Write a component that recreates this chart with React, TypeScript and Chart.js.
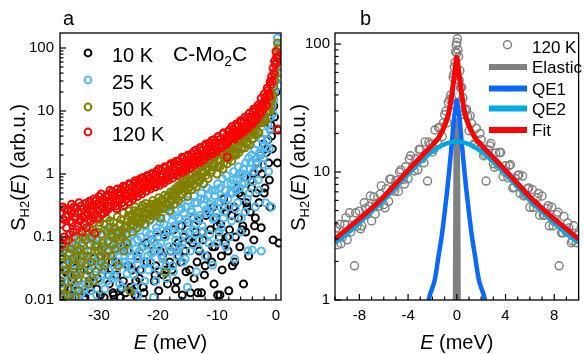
import React, { useEffect, useRef } from "react";
import { Chart, registerables } from "chart.js";
Chart.register(...registerables);

const FONT = '"Liberation Sans", Arial, Helvetica, sans-serif';

// ---------- Panel a : S_H2(E) at four temperatures ----------
const EA = [
  -36.5, -36.25, -36, -35.75, -35.5, -35.25, -35, -34.75, -34.5, -34.25, -34, -33.75,
  -33.5, -33.25, -33, -32.75, -32.5, -32.25, -32, -31.75, -31.5, -31.25, -31, -30.75,
  -30.5, -30.25, -30, -29.75, -29.5, -29.25, -29, -28.75, -28.5, -28.25, -28, -27.75,
  -27.5, -27.25, -27, -26.75, -26.5, -26.25, -26, -25.75, -25.5, -25.25, -25, -24.75,
  -24.5, -24.25, -24, -23.75, -23.5, -23.25, -23, -22.75, -22.5, -22.25, -22, -21.75,
  -21.5, -21.25, -21, -20.75, -20.5, -20.25, -20, -19.75, -19.5, -19.25, -19, -18.75,
  -18.5, -18.25, -18, -17.75, -17.5, -17.25, -17, -16.75, -16.5, -16.25, -16, -15.75,
  -15.5, -15.25, -15, -14.75, -14.5, -14.25, -14, -13.75, -13.5, -13.25, -13, -12.75,
  -12.5, -12.25, -12, -11.75, -11.5, -11.25, -11, -10.75, -10.5, -10.25, -10, -9.75,
  -9.5, -9.25, -9, -8.75, -8.5, -8.25, -8, -7.75, -7.5, -7.25, -7, -6.75,
  -6.5, -6.25, -6, -5.75, -5.5, -5.25, -5, -4.75, -4.5, -4.25, -4, -3.75,
  -3.5, -3.25, -3, -2.75, -2.5, -2.25, -2, -1.75, -1.5, -1.25, -1, -0.75,
  -0.5, -0.25, 0, 0.25, 0.5,
];
// second, interleaved set of energy channels
const EA2 = [
  -36.375, -36.125, -35.875, -35.625, -35.375, -35.125, -34.875, -34.625,
  -34.375, -34.125, -33.875, -33.625, -33.375, -33.125, -32.875, -32.625,
  -32.375, -32.125, -31.875, -31.625, -31.375, -31.125, -30.875, -30.625,
  -30.375, -30.125, -29.875, -29.625, -29.375, -29.125, -28.875, -28.625,
  -28.375, -28.125, -27.875, -27.625, -27.375, -27.125, -26.875, -26.625,
  -26.375, -26.125, -25.875, -25.625, -25.375, -25.125, -24.875, -24.625,
  -24.375, -24.125, -23.875, -23.625, -23.375, -23.125, -22.875, -22.625,
  -22.375, -22.125, -21.875, -21.625, -21.375, -21.125, -20.875, -20.625,
  -20.375, -20.125, -19.875, -19.625, -19.375, -19.125, -18.875, -18.625,
  -18.375, -18.125, -17.875, -17.625, -17.375, -17.125, -16.875, -16.625,
  -16.375, -16.125, -15.875, -15.625, -15.375, -15.125, -14.875, -14.625,
  -14.375, -14.125, -13.875, -13.625, -13.375, -13.125, -12.875, -12.625,
  -12.375, -12.125, -11.875, -11.625, -11.375, -11.125, -10.875, -10.625,
  -10.375, -10.125, -9.875, -9.625, -9.375, -9.125, -8.875, -8.625,
  -8.375, -8.125, -7.875, -7.625, -7.375, -7.125, -6.875, -6.625,
  -6.375, -6.125, -5.875, -5.625, -5.375, -5.125, -4.875, -4.625,
  -4.375, -4.125, -3.875, -3.625, -3.375, -3.125, -2.875, -2.625,
  -2.375, -2.125, -1.875, -1.625, -1.375, -1.125, -0.875, -0.625,
  -0.375, -0.125, 0.125, 0.375,
];

const S120K = [
  0.24, 0.075, 0.19, 0.28, 0.14, 0.22, 0.11, 0.26, 0.17, 0.3, 0.2, 0.13,
  0.25, 0.18, 0.31, 0.21, 0.16, 0.34, 0.24, 0.19, 0.36, 0.26, 0.2, 0.115,
  0.38, 0.27, 0.44, 0.31, 0.23, 0.4, 0.34, 0.26, 0.47, 0.3, 0.39, 0.52,
  0.33, 0.44, 0.28, 0.5, 0.38, 0.58, 0.42, 0.32, 0.62, 0.45, 0.36, 0.68,
  0.5, 0.4, 0.72, 0.55, 0.44, 0.8, 0.6, 0.48, 0.88, 0.66, 0.53, 0.95,
  0.7, 0.58, 1.02, 0.76, 0.62, 1.1, 0.82, 0.66, 1.15, 0.9, 0.72, 1.25,
  0.95, 0.8, 1.35, 1.05, 0.86, 1.5, 1.15, 0.95, 1.6, 1.25, 1.05, 1.75,
  1.35, 1.15, 1.9, 1.5, 1.25, 2.1, 1.65, 1.4, 2.4, 1.8, 1.5, 2.6,
  2.0, 1.7, 2.8, 2.2, 1.9, 3.1, 2.45, 2.1, 3.5, 2.7, 2.3, 3.9,
  3.0, 2.6, 4.3, 3.3, 2.9, 1.85, 4.8, 3.7, 5.6, 4.3, 3.6, 6.2,
  4.8, 4.1, 7.0, 5.4, 4.6, 8.0, 6.2, 5.3, 9.2, 7.2, 6.2, 10.8,
  8.5, 7.4, 12.5, 10, 16, 12, 18.5, 14.5, 23, 19, 29, 35,
  48, 62, 88, 5.2, 75,
];
const S120K_2 = [
  0.16, 0.3, 0.1, 0.21, 0.27, 0.09, 0.18, 0.33, 0.12, 0.24, 0.29, 0.15,
  0.35, 0.19, 0.12, 0.28, 0.22, 0.14, 0.29, 0.37, 0.18, 0.31, 0.4, 0.23,
  0.33, 0.2, 0.28, 0.48, 0.37, 0.24, 0.43, 0.3, 0.28, 0.55, 0.36, 0.42,
  0.49, 0.31, 0.58, 0.4, 0.5, 0.35, 0.64, 0.47, 0.4, 0.55, 0.7, 0.43,
  0.62, 0.46, 0.78, 0.5, 0.68, 0.52, 0.85, 0.58, 0.6, 0.78, 0.92, 0.62,
  0.85, 0.66, 1.0, 0.72, 0.95, 0.7, 1.2, 0.78, 1.0, 0.78, 1.3, 0.85,
  1.1, 0.88, 1.45, 0.98, 1.25, 1.0, 1.6, 1.08, 1.4, 1.12, 1.85, 1.2,
  1.6, 1.28, 2.0, 1.4, 1.85, 1.5, 2.3, 1.6, 2.1, 1.65, 2.6, 1.85,
  2.4, 1.9, 3.0, 2.1, 2.75, 2.2, 3.4, 2.4, 3.1, 2.5, 3.9, 2.8,
  3.6, 2.8, 4.5, 3.2, 4.0, 3.2, 5.0, 3.6, 4.6, 3.9, 5.8, 4.2,
  5.8, 4.5, 6.6, 5.0, 6.8, 5.4, 7.6, 5.9, 8.0, 6.4, 9.6, 7.0,
  10.5, 8.2, 11.5, 9.0, 13, 10.8, 16.5, 12.5, 21, 17, 26, 30,
  40, 55, 72, 68,
];

const S50K = [
  0.02, 0.045, 0.012, 0.07, 0.03, 0.015, 0.055, 0.025, 0.08, 0.035, 0.011, 0.05,
  0.022, 0.065, 0.04, 0.1, 0.03, 0.12, 0.05, 0.018, 0.075, 0.04, 0.13, 0.06,
  0.028, 0.09, 0.15, 0.05, 0.11, 0.07, 0.035, 0.2, 0.085, 0.14, 0.05, 0.1,
  0.17, 0.065, 0.12, 0.035, 0.09, 0.19, 0.13, 0.06, 0.15, 0.08, 0.22, 0.014,
  0.18, 0.12, 0.26, 0.2, 0.14, 0.24, 0.17, 0.28, 0.2, 0.16, 0.3, 0.23,
  0.27, 0.19, 0.33, 0.24, 0.31, 0.22, 0.36, 0.28, 0.2, 0.4, 0.3, 0.027,
  0.34, 0.46, 0.26, 0.4, 0.5, 0.33, 0.44, 0.56, 0.38, 0.6, 0.47, 0.66,
  0.52, 0.72, 0.44, 0.62, 0.8, 0.56, 0.68, 0.9, 0.62, 0.98, 0.76, 0.88,
  1.1, 0.7, 1.5, 1.25, 0.85, 1.6, 1.05, 1.3, 1.5, 1.9, 1.0, 1.7,
  1.3, 2.2, 1.2, 1.8, 2.4, 1.45, 1.9, 2.6, 1.6, 2.9, 2.2, 2.0,
  3.3, 2.2, 3.5, 2.6, 3.9, 2.6, 3.2, 4.3, 2.9, 4.8, 3.6, 5.2,
  4.2, 6.0, 4.6, 6.6, 8.6, 6.5, 8.0, 7.0, 9.5, 12, 10, 15,
  18, 30, 55, 120, 40,
];
const S50K_2 = [
  0.05, 0.016, 0.03, 0.09, 0.012, 0.04, 0.065, 0.02, 0.045, 0.1, 0.025, 0.06,
  0.014, 0.035, 0.08, 0.05, 0.09, 0.025, 0.06, 0.14, 0.04, 0.1, 0.02, 0.07,
  0.12, 0.06, 0.17, 0.04, 0.08, 0.16, 0.05, 0.12, 0.06, 0.18, 0.11, 0.075,
  0.14, 0.095, 0.21, 0.12, 0.16, 0.1, 0.24, 0.14, 0.11, 0.19, 0.26, 0.16,
  0.22, 0.15, 0.3, 0.19, 0.26, 0.2, 0.18, 0.32, 0.24, 0.34, 0.2, 0.28,
  0.3, 0.22, 0.38, 0.26, 0.34, 0.26, 0.42, 0.3, 0.38, 0.28, 0.46, 0.34,
  0.42, 0.32, 0.52, 0.38, 0.46, 0.58, 0.4, 0.64, 0.55, 0.7, 0.48, 0.78,
  0.66, 0.84, 0.58, 0.95, 0.75, 1.0, 0.68, 1.1, 0.9, 1.2, 0.8, 1.3,
  1.05, 1.4, 0.95, 1.55, 1.25, 1.7, 1.15, 1.8, 1.4, 2.0, 1.3, 2.1,
  1.65, 2.3, 1.5, 2.45, 2.0, 2.7, 1.8, 2.9, 2.35, 3.2, 2.1, 3.4,
  2.8, 3.7, 2.5, 4.0, 3.4, 4.4, 3.0, 4.8, 4.1, 5.4, 3.7, 5.8,
  5.0, 6.6, 4.5, 7.4, 6.5, 8.0, 7.5, 9.5, 10, 14, 12, 17,
  24, 38, 80, 100,
];

const S25K = [
  0.03, 0.012, 0.06, 0.02, 0.045, 0.015, 0.08, 0.025, 0.011, 0.05, 0.03, 0.07,
  0.02, 0.09, 0.013, 0.04, 0.06, 0.018, 0.035, 0.1, 0.014, 0.05, 0.085, 0.025,
  0.04, 0.12, 0.02, 0.065, 0.03, 0.09, 0.015, 0.05, 0.11, 0.04, 0.07, 0.022,
  0.055, 0.13, 0.03, 0.085, 0.018, 0.06, 0.1, 0.04, 0.14, 0.026, 0.075, 0.05,
  0.035, 0.11, 0.016, 0.065, 0.09, 0.045, 0.16, 0.03, 0.07, 0.02, 0.12, 0.05,
  0.18, 0.04, 0.09, 0.011, 0.06, 0.14, 0.03, 0.2, 0.08, 0.045, 0.16, 0.1,
  0.022, 0.12, 0.06, 0.24, 0.035, 0.15, 0.09, 0.05, 0.2, 0.07, 0.28, 0.04,
  0.11, 0.3, 0.016, 0.17, 0.06, 0.25, 0.13, 0.35, 0.028, 0.2, 0.09, 0.4,
  0.15, 0.32, 0.05, 0.24, 0.45, 0.11, 0.3, 0.036, 0.2, 0.55, 0.08, 0.36,
  0.6, 0.14, 0.42, 0.25, 0.07, 0.7, 0.3, 0.5, 0.18, 0.8, 0.045, 0.55,
  0.35, 1.0, 0.12, 0.7, 1.2, 0.25, 0.9, 0.06, 0.5, 1.5, 0.062, 1.1,
  0.3, 1.8, 0.8, 2.2, 0.06, 1.4, 2.8, 0.35, 3.5, 1.1, 5, 0.3,
  9, 20, 45, 144, 25,
];
const S25K_2 = [
  0.018, 0.05, 0.011, 0.035, 0.07, 0.02, 0.04, 0.013, 0.025, 0.06, 0.015, 0.09,
  0.05, 0.012, 0.03, 0.075, 0.015, 0.045, 0.11, 0.028, 0.06, 0.022, 0.035, 0.095,
  0.012, 0.075, 0.045, 0.025, 0.065, 0.035, 0.13, 0.02, 0.03, 0.08, 0.05, 0.14,
  0.024, 0.06, 0.1, 0.04, 0.07, 0.016, 0.12, 0.05, 0.035, 0.09, 0.06, 0.15,
  0.08, 0.025, 0.13, 0.045, 0.012, 0.06, 0.1, 0.19, 0.04, 0.15, 0.075, 0.03,
  0.11, 0.055, 0.22, 0.085, 0.02, 0.12, 0.07, 0.17, 0.05, 0.25, 0.1, 0.035,
  0.13, 0.07, 0.3, 0.18, 0.028, 0.22, 0.11, 0.06, 0.15, 0.34, 0.08, 0.24,
  0.045, 0.19, 0.38, 0.12, 0.27, 0.09, 0.45, 0.16, 0.35, 0.065, 0.22, 0.5,
  0.12, 0.4, 0.27, 0.6, 0.08, 0.33, 0.55, 0.19, 0.45, 0.25, 0.7, 0.12,
  0.35, 0.85, 0.2, 0.55, 0.95, 0.4, 0.1, 0.7, 0.5, 1.1, 0.28, 0.85,
  1.3, 0.6, 0.2, 1.0, 0.7, 1.5, 0.4, 1.8, 1.2, 2.0, 0.75, 2.4,
  1.5, 3.0, 0.55, 2.0, 3.5, 1.8, 4.5, 2.6, 6, 2.5, 8, 12,
  15, 30, 70, 110,
];

const S10K = [
  0.02, 0.005, 0.035, 0.012, 0.005, 0.025, 0.005, 0.015, 0.04, 0.005, 0.011, 0.005,
  0.02, 0.005, 0.05, 0.005, 0.005, 0.013, 0.005, 0.03, 0.016, 0.005, 0.045, 0.005,
  0.005, 0.022, 0.005, 0.012, 0.06, 0.005, 0.03, 0.005, 0.005, 0.018, 0.005, 0.04,
  0.012, 0.005, 0.025, 0.005, 0.005, 0.015, 0.005, 0.07, 0.013, 0.005, 0.035, 0.005,
  0.005, 0.014, 0.005, 0.02, 0.05, 0.005, 0.03, 0.005, 0.016, 0.005, 0.08, 0.005,
  0.005, 0.04, 0.005, 0.06, 0.025, 0.005, 0.1, 0.005, 0.005, 0.05, 0.005, 0.03,
  0.12, 0.005, 0.04, 0.005, 0.005, 0.07, 0.015, 0.005, 0.05, 0.005, 0.15, 0.005,
  0.005, 0.028, 0.005, 0.09, 0.013, 0.005, 0.2, 0.005, 0.005, 0.013, 0.06, 0.005,
  0.12, 0.005, 0.035, 0.005, 0.005, 0.25, 0.005, 0.07, 0.018, 0.005, 0.15, 0.005,
  0.012, 0.05, 0.005, 0.3, 0.005, 0.1, 0.014, 0.005, 0.22, 0.005, 0.04, 0.005,
  0.005, 0.5, 0.005, 0.13, 0.018, 0.005, 0.35, 0.005, 0.005, 0.8, 0.005, 0.09,
  0.2, 0.005, 1.2, 0.005, 0.14, 0.005, 0.5, 2.5, 0.005, 1.5, 0.3, 4,
  0.09, 8, 20, 1.5, 0.08,
];
const S10K_2 = [
  0.005, 0.015, 0.005, 0.028, 0.005, 0.005, 0.012, 0.005, 0.022, 0.005, 0.005, 0.014,
  0.005, 0.03, 0.005, 0.005, 0.011, 0.005, 0.005, 0.02, 0.005, 0.035, 0.005, 0.005,
  0.015, 0.005, 0.005, 0.05, 0.005, 0.011, 0.005, 0.005, 0.025, 0.005, 0.005, 0.013,
  0.005, 0.04, 0.005, 0.005, 0.011, 0.005, 0.02, 0.005, 0.005, 0.06, 0.005, 0.016,
  0.03, 0.005, 0.012, 0.005, 0.005, 0.022, 0.005, 0.07, 0.013, 0.005, 0.04, 0.005,
  0.005, 0.09, 0.005, 0.02, 0.035, 0.005, 0.014, 0.06, 0.005, 0.025, 0.11, 0.005,
  0.018, 0.005, 0.06, 0.03, 0.13, 0.005, 0.02, 0.08, 0.005, 0.04, 0.012, 0.1,
  0.06, 0.005, 0.17, 0.03, 0.005, 0.08, 0.022, 0.12, 0.04, 0.18, 0.005, 0.013,
  0.09, 0.025, 0.22, 0.05, 0.005, 0.13, 0.04, 0.3, 0.07, 0.2, 0.012, 0.1,
  0.16, 0.03, 0.4, 0.08, 0.25, 0.06, 0.13, 0.5, 0.035, 0.3, 0.1, 0.6,
  0.2, 0.07, 0.45, 0.15, 0.9, 0.12, 0.3, 0.05, 0.25, 0.6, 1.0, 0.15,
  0.5, 1.5, 0.35, 2.0, 1.0, 3.0, 0.6, 2.2, 3.5, 0.8, 6, 2.5,
  12, 30, 60, 5,
];

const XA_TICKS = [-30, -20, -10, 0];
const YA_TICKS = [0.01, 0.1, 1, 10, 100];

// ---------- Panel b : 120 K spectrum and fit components ----------
const EB_120 = [
  -10, -9.8, -9.6, -9.4, -9.2, -9, -8.8, -8.6, -8.4, -8.2,
  -8, -7.8, -7.6, -7.4, -7.2, -7, -6.8, -6.6, -6.4, -6.2,
  -6, -5.8, -5.6, -5.4, -5.2, -5, -4.8, -4.6, -4.4, -4.2,
  -4, -3.8, -3.6, -3.4, -3.2, -3, -2.8, -2.6, -2.4, -2.2,
  -2, -1.8, -1.6, -1.4, -1.2, -1, -0.8, -0.6, -0.4, -0.2,
  0,
  0.2, 0.4, 0.6, 0.8, 1, 1.2, 1.4, 1.6, 1.8, 2,
  2.2, 2.4, 2.6, 2.8, 3, 3.2, 3.4, 3.6, 3.8, 4,
  4.2, 4.4, 4.6, 4.8, 5, 5.2, 5.4, 5.6, 5.8, 6,
  6.2, 6.4, 6.6, 6.8, 7, 7.2, 7.4, 7.6, 7.8, 8,
  8.2, 8.4, 8.6, 8.8, 9, 9.2, 9.4, 9.6, 9.8, 10,
  -9.9, -9.5, -9.1, -8.7, -8.3, -7.9, -7.5, -7.1, -6.7, -6.3,
  -5.9, -5.5, -5.1, -4.7, -4.3, -3.9, -3.5, -3.1, -2.7, -2.3,
  -1.9, -1.5, -1.1, -0.7, -0.3, -0.1, 0.1, 0.3, 0.7, 1.1,
  1.5, 1.9, 2.3, 2.7, 3.1, 3.5, 3.9, 4.3, 4.7, 5.1,
  5.5, 5.9, 6.3, 6.7, 7.1, 7.5, 7.9, 8.3, 8.7, 9.1,
  9.5, 9.9,
  -0.05, 0.05, 0, -0.15, 0.15, -0.25, 0.25, -0.5, 0.5, -0.9, 0.9, -0.35, 0.35,
];
const SB_120 = [
  3.2, 2.7, 3.9, 3.1, 3.9, 2.95, 4.8, 3.85, 1.85, 3.75,
  4.95, 3.8, 5.75, 4.65, 5.4, 4.15, 6.4, 5.7, 5.4, 7.8,
  5.55, 7.4, 5.9, 8.8, 7.4, 8.6, 7.05, 10.4, 8.75, 11,
  8.85, 13.4, 11.1, 12.7, 10.4, 15, 12.8, 17.2, 8.5, 16.4,
  14.3, 21.3, 17.1, 22.4, 18.9, 28, 24.2, 36.8, 36.9, 66,
  103,
  52, 46, 28, 31, 21, 24, 16.5, 22, 16.3, 17.9,
  13.4, 8.5, 14.9, 16.7, 11.6, 14.1, 11.2, 14.2, 9.2, 11.2,
  9.0, 11.4, 7.5, 8.9, 9.4, 6.8, 9.3, 6.65, 7.4, 5.3,
  7.3, 5.7, 6.3, 4.6, 6.5, 4.6, 5.2, 3.8, 5.3, 4.1,
  4.65, 1.85, 3.35, 4.5, 3.4, 3.65, 2.8, 3.8, 2.8, 3.3,
  3.65, 2.75, 4.4, 3.4, 4.8, 3.6, 5.2, 6.5, 4.7, 6.7,
  5.25, 8.8, 7.1, 10, 8.05, 12.6, 10.2, 15, 11.8, 17.1,
  15, 22.2, 24.2, 35, 55, 87, 90, 45.6, 30.5, 27.5,
  16.3, 20, 13.8, 16, 10.9, 14.2, 10, 11.2, 7.6, 9.5,
  6.5, 7.5, 5.3, 6.8, 4.6, 5.45, 3.8, 4.85, 3.35, 4.0,
  2.9, 3.2,
  98, 110, 85, 72, 80, 58, 62, 40, 38, 30, 27, 34, 30,
];

const E_ELASTIC = [-0.1, -0.05, 0, 0.05, 0.1];
const S_ELASTIC = [0.4, 6, 25, 6, 0.4];

const E_QE1 = [-2.6, -2.2, -1.8, -1.5, -1.25, -1, -0.8, -0.6, -0.4, -0.25, -0.12, 0,
  0.12, 0.25, 0.4, 0.6, 0.8, 1, 1.25, 1.5, 1.8, 2.2, 2.6];
const S_QE1 = [0.75, 1.1, 1.45, 2.2, 3.1, 4.8, 7.0, 10.8, 17, 25, 31, 36.5,
  31, 25, 17, 10.8, 7.0, 4.8, 3.1, 2.2, 1.45, 1.1, 0.75];

const E_QE2 = [-10, -9, -8, -7, -6, -5, -4, -3, -2, -1, 0, 1, 2, 3, 4, 5, 6, 7, 8, 9, 10];
const S_QE2 = [2.8, 3.3, 4.0, 4.9, 6.0, 7.6, 9.6, 12, 14.5, 16.5, 17.3, 16.5, 14.5, 12, 9.6, 7.6, 6.0, 4.9, 4.0, 3.3, 2.8];

const E_FIT = [-10, -9, -8, -7, -6, -5, -4, -3, -2, -1.5, -1, -0.7, -0.5, -0.3, -0.15, 0,
  0.15, 0.3, 0.5, 0.7, 1, 1.5, 2, 3, 4, 5, 6, 7, 8, 9, 10];
const S_FIT = [3.0, 3.6, 4.3, 5.2, 6.4, 8.1, 10.3, 13, 16.3, 18.5, 23, 28, 35, 48, 62, 79,
  62, 48, 35, 28, 23, 18.5, 16.3, 13, 10.3, 8.1, 6.4, 5.2, 4.3, 3.6, 3.0];

const XB_TICKS = [-8, -4, 0, 4, 8];
const YB_TICKS = [1, 10, 100];

// ---------- colours ----------
const C_10K = "#000000";
const C_25K = "#52b8f2";
const C_50K = "#808000";
const C_120K = "#ff0000";
const C_GRAY = "#808080";
const C_QE1 = "#0a68ff";
const C_QE2 = "#00a8e2";
const C_FIT = "#ff0000";

type Seg = { t: string; it?: boolean; sub?: boolean };

function drawRich(ctx: CanvasRenderingContext2D, segs: Seg[], x: number, y: number, size: number, align: "center" | "left") {
  const fontOf = (s: Seg) => `${s.it ? "italic " : ""}${s.sub ? Math.round(size * 0.66) : size}px ${FONT}`;
  let total = 0;
  const widths = segs.map((s) => {
    ctx.font = fontOf(s);
    const w = ctx.measureText(s.t).width;
    total += w;
    return w;
  });
  let cx = align === "center" ? x - total / 2 : x;
  ctx.textAlign = "left";
  ctx.textBaseline = "alphabetic";
  segs.forEach((s, i) => {
    ctx.font = fontOf(s);
    ctx.fillText(s.t, cx, y + (s.sub ? size * 0.24 : 0));
    cx += widths[i];
  });
}

function logMinors(min: number, max: number) {
  const out: number[] = [];
  for (let d = Math.floor(Math.log10(min)); d <= Math.ceil(Math.log10(max)); d++) {
    for (let k = 2; k <= 9; k++) {
      const v = k * Math.pow(10, d);
      if (v > min && v < max) out.push(v);
    }
  }
  return out;
}

const Y_TITLE: Seg[] = [{ t: "S" }, { t: "H2", sub: true }, { t: "(" }, { t: "E", it: true }, { t: ") (arb.u.)" }];
const X_TITLE: Seg[] = [{ t: "E", it: true }, { t: " (meV)" }];

function decoPlugin(o: {
  xMajor: number[]; xMinorStep: number; yMajor: number[];
  yTitleX: number; label: string; labelX: number;
  legend: (ctx: CanvasRenderingContext2D) => void;
}) {
  return {
    id: "deco",
    afterDraw(chart: any) {
      const { ctx, chartArea } = chart;
      const { left, right, top, bottom } = chartArea;
      const xs = chart.scales.x;
      const ys = chart.scales.y;
      ctx.save();
      ctx.strokeStyle = "#000";
      ctx.lineWidth = 1.2;
      const seg = (x1: number, y1: number, x2: number, y2: number) => {
        ctx.beginPath(); ctx.moveTo(x1, y1); ctx.lineTo(x2, y2); ctx.stroke();
      };
      for (const v of o.xMajor) { const p = xs.getPixelForValue(v); seg(p, bottom, p, bottom - 6); }
      for (let v = Math.ceil(xs.min / o.xMinorStep) * o.xMinorStep; v <= xs.max; v += o.xMinorStep) {
        if (o.xMajor.some((m) => Math.abs(m - v) < 1e-9)) continue;
        const p = xs.getPixelForValue(v); seg(p, bottom, p, bottom - 3.5);
      }
      for (const v of o.yMajor) { const p = ys.getPixelForValue(v); seg(left, p, left + 6, p); }
      for (const v of logMinors(ys.min, ys.max)) { const p = ys.getPixelForValue(v); seg(left, p, left + 3.5, p); }
      ctx.lineWidth = 1.3;
      ctx.strokeRect(left, top, right - left, bottom - top);
      ctx.fillStyle = "#000";
      drawRich(ctx, X_TITLE, (left + right) / 2, 349, 20, "center");
      ctx.save();
      ctx.translate(o.yTitleX, (top + bottom) / 2 + 1);
      ctx.rotate(-Math.PI / 2);
      drawRich(ctx, Y_TITLE, 0, 0, 20, "center");
      ctx.restore();
      ctx.font = `20px ${FONT}`;
      ctx.textAlign = "left";
      ctx.textBaseline = "alphabetic";
      ctx.fillText(o.label, o.labelX, 25);
      o.legend(ctx);
      ctx.restore();
    },
  };
}

function circle(ctx: CanvasRenderingContext2D, x: number, y: number, r: number, w: number, c: string) {
  ctx.beginPath();
  ctx.arc(x, y, r, 0, Math.PI * 2);
  ctx.lineWidth = w;
  ctx.strokeStyle = c;
  ctx.stroke();
}

const legendA = (ctx: CanvasRenderingContext2D) => {
  const rows: [string, string, number][] = [
    ["10 K", C_10K, 53], ["25 K", C_25K, 80], ["50 K", C_50K, 107], ["120 K", C_120K, 132],
  ];
  for (const [t, c, y] of rows) {
    circle(ctx, 88, y, 3.4, 2, c);
    ctx.fillStyle = "#000";
    ctx.font = `20px ${FONT}`;
    ctx.textAlign = "left";
    ctx.textBaseline = "alphabetic";
    ctx.fillText(t, 112, y + 8.5);
  }
  ctx.fillStyle = "#000";
  drawRich(ctx, [{ t: "C-Mo" }, { t: "2", sub: true }, { t: "C" }], 173, 61, 21, "left");
};

const OFF_B = 286;
const legendB = (ctx: CanvasRenderingContext2D) => {
  circle(ctx, 507.5 - OFF_B, 44.7, 4, 1.4, C_GRAY);
  ctx.fillStyle = "#000";
  ctx.font = `17px ${FONT}`;
  ctx.textAlign = "left";
  ctx.textBaseline = "alphabetic";
  ctx.fillText("120 K", 532 - OFF_B, 52.8);
  const rows: [string, string, number][] = [
    ["Elastic", C_GRAY, 67], ["QE1", C_QE1, 88.5], ["QE2", C_QE2, 108.5], ["Fit", C_FIT, 130],
  ];
  for (const [t, c, y] of rows) {
    ctx.beginPath();
    ctx.moveTo(489 - OFF_B, y);
    ctx.lineTo(527 - OFF_B, y);
    ctx.lineWidth = 6;
    ctx.strokeStyle = c;
    ctx.lineCap = "butt";
    ctx.stroke();
    ctx.fillStyle = "#000";
    ctx.fillText(t, 532 - OFF_B, y + 6.3);
  }
};

const pts = (xs: number[], ys: number[]) => xs.map((x, i) => ({ x, y: ys[i] }));

const scatterDs = (label: string, data: any[], color: string, order: number, r: number, w: number) => ({
  type: "scatter" as const,
  label, data, order,
  borderColor: color,
  backgroundColor: "rgba(0,0,0,0)",
  pointRadius: r,
  pointHoverRadius: r,
  pointBorderWidth: w,
  showLine: false,
  clip: 0,
});

const lineDs = (label: string, data: any[], color: string, order: number, w: number) => ({
  type: "scatter" as const,
  label, data, order,
  borderColor: color,
  backgroundColor: color,
  borderWidth: w,
  pointRadius: 0,
  pointHoverRadius: 0,
  showLine: true,
  cubicInterpolationMode: "monotone" as const,
  clip: 0,
});

const tickFont = { family: FONT, size: 15 };

function makeScales(xMin: number, xMax: number, xTicks: number[], yMin: number, yMax: number, yTicks: number[], yWidth: number, yPad: number) {
  return {
    x: {
      type: "linear" as const,
      min: xMin, max: xMax,
      grid: { display: false, drawTicks: false },
      border: { display: false },
      afterBuildTicks: (s: any) => { s.ticks = xTicks.map((v) => ({ value: v })); },
      afterFit: (s: any) => { s.height = 54; },
      ticks: { font: tickFont, color: "#000", padding: 7, maxRotation: 0, autoSkip: false, callback: (v: any) => String(v) },
    },
    y: {
      type: "logarithmic" as const,
      min: yMin, max: yMax,
      grid: { display: false, drawTicks: false },
      border: { display: false },
      afterBuildTicks: (s: any) => { s.ticks = yTicks.map((v) => ({ value: v })); },
      afterFit: (s: any) => { s.width = yWidth; },
      ticks: { font: tickFont, color: "#000", padding: yPad, autoSkip: false, callback: (v: any) => String(v) },
    },
  };
}

export default function App() {
  const refA = useRef<HTMLCanvasElement>(null);
  const refB = useRef<HTMLCanvasElement>(null);

  useEffect(() => {
    const chartA = new Chart(refA.current as HTMLCanvasElement, {
      type: "scatter",
      data: {
        datasets: [
          scatterDs("120 K", pts(EA, S120K).concat(pts(EA2, S120K_2)), C_120K, 0, 3.5, 2),
          scatterDs("50 K", pts(EA, S50K).concat(pts(EA2, S50K_2)), C_50K, 1, 3.5, 2),
          scatterDs("25 K", pts(EA, S25K).concat(pts(EA2, S25K_2)), C_25K, 2, 3.5, 2),
          scatterDs("10 K", pts(EA, S10K).concat(pts(EA2, S10K_2)), C_10K, 3, 3.5, 2),
        ] as any,
      },
      options: {
        animation: false,
        responsive: false,
        events: [],
        layout: { padding: { left: 0, right: 9, top: 33, bottom: 0 } },
        plugins: { legend: { display: false }, tooltip: { enabled: false } },
        scales: makeScales(-36.6, 0.85, XA_TICKS, 0.01, 173, YA_TICKS, 60, 6) as any,
      },
      plugins: [decoPlugin({ xMajor: XA_TICKS, xMinorStep: 2, yMajor: YA_TICKS, yTitleX: 24.5, label: "a", labelX: 63, legend: legendA })],
    });

    const chartB = new Chart(refB.current as HTMLCanvasElement, {
      type: "scatter",
      data: {
        datasets: [
          lineDs("Fit", pts(E_FIT, S_FIT), C_FIT, 0, 5),
          lineDs("QE2", pts(E_QE2, S_QE2), C_QE2, 1, 4.5),
          lineDs("QE1", pts(E_QE1, S_QE1), C_QE1, 2, 4.5),
          lineDs("Elastic", pts(E_ELASTIC, S_ELASTIC), C_GRAY, 3, 6),
          scatterDs("120 K", pts(EB_120, SB_120), C_GRAY, 4, 4, 1.4),
        ] as any,
      },
      options: {
        animation: false,
        responsive: false,
        events: [],
        layout: { padding: { left: 0, right: 1, top: 33, bottom: 0 } },
        plugins: { legend: { display: false }, tooltip: { enabled: false } },
        scales: makeScales(-10, 10, XB_TICKS, 1, 122, YB_TICKS, 335 - OFF_B, 5) as any,
      },
      plugins: [decoPlugin({ xMajor: XB_TICKS, xMinorStep: 1, yMajor: YB_TICKS, yTitleX: 304.5 - OFF_B, label: "b", labelX: 360 - OFF_B, legend: legendB })],
    });

    return () => {
      chartA.destroy();
      chartB.destroy();
    };
  }, []);

  return (
    <div style={{ position: "fixed", left: 0, top: 0, width: 584, height: 354, background: "#fff", overflow: "hidden" }}>
      <canvas ref={refA} width={290} height={354} style={{ position: "absolute", left: 0, top: 0, width: 290, height: 354 }} />
      <canvas ref={refB} width={298} height={354} style={{ position: "absolute", left: OFF_B, top: 0, width: 298, height: 354 }} />
    </div>
  );
}
